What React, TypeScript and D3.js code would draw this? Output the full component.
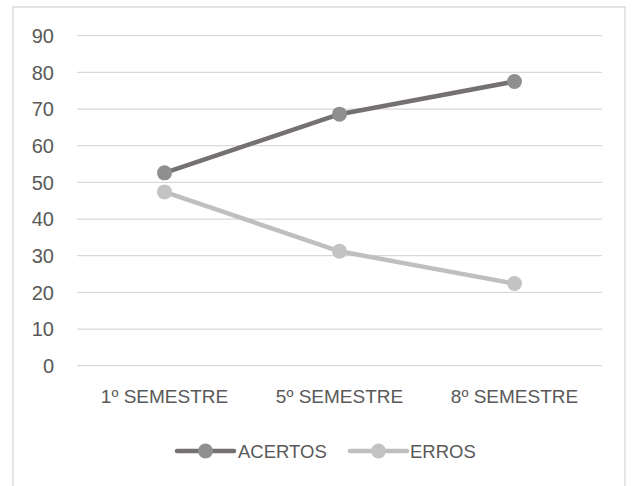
import React, { useEffect, useRef } from 'react';
import * as d3 from 'd3';

const categories = ['1º SEMESTRE', '5º SEMESTRE', '8º SEMESTRE'];
const acertos = [52.6, 68.6, 77.5];
const erros = [47.4, 31.2, 22.4];
const yTicks = [0, 10, 20, 30, 40, 50, 60, 70, 80, 90];

const series = [
  { name: 'ACERTOS', values: acertos, line: '#767171', marker: '#8f8f8f' },
  { name: 'ERROS', values: erros, line: '#bfbfbf', marker: '#c3c3c3' },
];

const FONT = 'Liberation Sans, Arial, sans-serif';

const App = () => {
  const svgRef = useRef<SVGSVGElement>(null);

  useEffect(() => {
    const width = 632;
    const height = 486;
    const margin = { top: 36, right: 30, bottom: 120, left: 77 };
    const svg = d3.select(svgRef.current).attr('width', width).attr('height', height);
    svg.selectAll('*').remove();

    svg.append('rect')
      .attr('x', 0).attr('y', 0).attr('width', width).attr('height', height)
      .attr('fill', '#fff');
    // chart area border (bottom runs off the picture)
    svg.append('path')
      .attr('d', `M13,${height + 2}V7H625V${height + 2}`)
      .attr('fill', 'none')
      .attr('stroke', '#d9d9d9')
      .attr('stroke-width', 1.3);

    const x = d3.scaleBand().domain(categories).range([margin.left, width - margin.right]);
    const y = d3.scaleLinear().domain([0, 90]).range([365.7, 35.7]);

    svg.append('g')
      .selectAll('line')
      .data(yTicks)
      .enter().append('line')
      .attr('x1', margin.left).attr('x2', width - margin.right)
      .attr('y1', d => y(d)).attr('y2', d => y(d))
      .attr('stroke', '#d9d9d9')
      .attr('stroke-width', 1.3);

    svg.append('g')
      .selectAll('text')
      .data(yTicks)
      .enter().append('text')
      .attr('x', 54)
      .attr('y', d => y(d))
      .attr('dy', '0.36em')
      .attr('text-anchor', 'end')
      .attr('font-family', FONT)
      .attr('font-size', 20)
      .attr('fill', '#595959')
      .text(d => d);

    svg.append('g')
      .selectAll('text')
      .data(categories)
      .enter().append('text')
      .attr('x', d => x(d)! + x.bandwidth() / 2)
      .attr('y', 403)
      .attr('text-anchor', 'middle')
      .attr('font-family', FONT)
      .attr('font-size', 19)
      .attr('fill', '#595959')
      .text(d => d);

    const line = d3.line<number>()
      .x((_, i) => x(categories[i])! + x.bandwidth() / 2)
      .y(d => y(d));

    series.forEach(s => {
      svg.append('path')
        .datum(s.values)
        .attr('d', line)
        .attr('fill', 'none')
        .attr('stroke', s.line)
        .attr('stroke-width', 4.5)
        .attr('stroke-linejoin', 'round');
      svg.append('g')
        .selectAll('circle')
        .data(s.values)
        .enter().append('circle')
        .attr('cx', (_, i) => x(categories[i])! + x.bandwidth() / 2)
        .attr('cy', d => y(d))
        .attr('r', 7.5)
        .attr('fill', s.marker);
    });

    // legend
    const legendItems = [
      { s: series[0], x0: 177, x1: 234, tx: 238 },
      { s: series[1], x0: 350, x1: 407, tx: 410 },
    ];
    const ly = 451;
    legendItems.forEach(it => {
      svg.append('line')
        .attr('x1', it.x0).attr('x2', it.x1)
        .attr('y1', ly).attr('y2', ly)
        .attr('stroke', it.s.line)
        .attr('stroke-width', 4.5)
        .attr('stroke-linecap', 'round');
      svg.append('circle')
        .attr('cx', (it.x0 + it.x1) / 2).attr('cy', ly)
        .attr('r', 7.5)
        .attr('fill', it.s.marker);
      svg.append('text')
        .attr('x', it.tx).attr('y', ly)
        .attr('dy', '0.36em')
        .attr('font-family', FONT)
        .attr('font-size', 18.5)
        .attr('fill', '#595959')
        .text(it.s.name);
    });
  }, []);

  return (
    <svg ref={svgRef} style={{ position: 'absolute', left: 0, top: 0 }}></svg>
  );
};

export default App;
